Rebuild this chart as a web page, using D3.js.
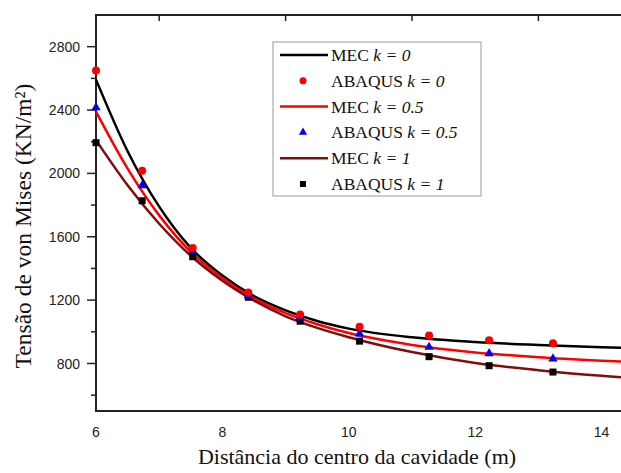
<!DOCTYPE html>
<html lang="en">
<head>
    <meta charset="utf-8">
    <title>Tensão de von Mises</title>
    <script src="https://d3js.org/d3.v7.min.js"></script>
    <style>
        body { margin: 0; background: #fff; }
        .tick-label { font-family: "Liberation Sans", Arial, sans-serif; font-size: 14px; fill: #222; }
        .title { font-family: "Liberation Serif", "Times New Roman", serif; font-size: 22px; fill: #111; }
        .legend-text { font-family: "Liberation Serif", "Times New Roman", serif; font-size: 17.5px; fill: #111; }
    </style>
</head>
<body>
<svg id="chart"></svg>
<script>
    // ABAQUS points (x in m, von Mises stress in KN/m2)
    const abaqusX = [6.0, 6.73, 7.53, 8.41, 9.23, 10.17, 11.27, 12.22, 13.23];
    const abaqusK0 = [2650, 2016, 1529, 1248, 1109, 1032, 977, 947, 928];
    const abaqusK05 = [2415, 1924, 1508, 1229, 1090, 988, 903, 863, 830];
    const abaqusK1 = [2194, 1827, 1474, 1218, 1067, 941, 843, 786, 746];

    // MEC curves
    const mecX = [6.0, 6.5, 7.0, 7.5, 8.0, 8.5, 9.0, 9.5, 10.0, 11.0, 12.0, 13.0, 14.0, 15.0];
    const mecK0 = [2592, 2140, 1790, 1530, 1355, 1225, 1135, 1068, 1020, 965, 935, 917, 903, 893];
    const mecK05 = [2390, 2030, 1735, 1505, 1340, 1212, 1118, 1048, 992, 917, 870, 840, 818, 800];
    const mecK1 = [2210, 1925, 1682, 1480, 1322, 1197, 1098, 1025, 966, 872, 803, 758, 722, 697];

    const xTicks = [6, 8, 10, 12, 14];
    const xTopTicks = [7, 9, 11, 13];
    const yTicks = [800, 1200, 1600, 2000, 2400, 2800];
    const yMinorTicks = [600, 1000, 1400, 1800, 2200, 2600];

    const width = 621, height = 473;
    const margin = {top: 15, left: 96, bottom: 411};

    let svg = d3.select("#chart")
            .attr("width", width)
            .attr("height", height);

    let x = d3.scaleLinear().domain([6, 15]).range([margin.left, margin.left + 9 * 63.2]);
    let y = d3.scaleLinear().domain([500, 3000]).range([margin.bottom, margin.top]);

    // frame lines
    svg.append("line").attr("x1", x(6)).attr("x2", width).attr("y1", y(500)).attr("y2", y(500))
            .attr("stroke", "#222").attr("stroke-width", 2);
    svg.append("line").attr("x1", x(6)).attr("x2", width).attr("y1", y(3000)).attr("y2", y(3000))
            .attr("stroke", "#222").attr("stroke-width", 2);
    svg.append("line").attr("x1", x(6)).attr("x2", x(6)).attr("y1", y(500) + 1).attr("y2", y(3000) - 1)
            .attr("stroke", "#222").attr("stroke-width", 2);

    // top ticks pointing in
    svg.selectAll(".top-tick").data(xTopTicks).enter().append("line")
            .attr("x1", d => x(d)).attr("x2", d => x(d))
            .attr("y1", y(3000)).attr("y2", y(3000) + 6)
            .attr("stroke", "#222").attr("stroke-width", 1.5);

    // left ticks
    svg.selectAll(".ymaj").data(yTicks).enter().append("line")
            .attr("x1", x(6) - 9).attr("x2", x(6))
            .attr("y1", d => y(d)).attr("y2", d => y(d))
            .attr("stroke", "#222").attr("stroke-width", 1.5);
    svg.selectAll(".ymin").data(yMinorTicks).enter().append("line")
            .attr("x1", x(6) - 5).attr("x2", x(6))
            .attr("y1", d => y(d)).attr("y2", d => y(d))
            .attr("stroke", "#222").attr("stroke-width", 1.5);

    svg.selectAll(".ylab").data(yTicks).enter().append("text")
            .attr("class", "tick-label")
            .attr("x", x(6) - 16).attr("y", d => y(d))
            .attr("dy", "0.36em")
            .attr("text-anchor", "end")
            .text(d => d);

    svg.selectAll(".xlab").data(xTicks).enter().append("text")
            .attr("class", "tick-label")
            .attr("x", d => x(d)).attr("y", 437)
            .attr("text-anchor", "middle")
            .text(d => d);

    // axis titles
    svg.append("text").attr("class", "title")
            .attr("x", 357).attr("y", 464)
            .attr("text-anchor", "middle")
            .text("Distância do centro da cavidade (m)");

    svg.append("text").attr("class", "title")
            .attr("transform", `translate(${31}, ${226}) rotate(-90)`)
            .attr("text-anchor", "middle")
            .style("font-size", "23.5px")
            .text("Tensão de von Mises (KN/m²)");

    // curves
    let plot = svg.append("g");
    let line = d3.line().curve(d3.curveMonotoneX);
    const series = [
        {vals: mecK0, color: "#000000"},
        {vals: mecK05, color: "#ff0000"},
        {vals: mecK1, color: "#7f0d0d"}
    ];
    series.forEach(s => {
        plot.append("path")
                .attr("d", line(mecX.map((d, i) => [x(d), y(s.vals[i])])))
                .attr("fill", "none")
                .attr("stroke", s.color)
                .attr("stroke-width", 2.5);
    });

    // ABAQUS markers
    plot.selectAll(".sq").data(abaqusX).enter().append("rect")
            .attr("x", d => x(d) - 3.5).attr("y", (d, i) => y(abaqusK1[i]) - 3.5)
            .attr("width", 7).attr("height", 7)
            .attr("fill", "#000");
    let tri = d3.symbol().type(d3.symbolTriangle).size(38);
    plot.selectAll(".tri").data(abaqusX).enter().append("path")
            .attr("d", tri)
            .attr("transform", (d, i) => `translate(${x(d)}, ${y(abaqusK05[i])})`)
            .attr("fill", "#0000ff");
    plot.selectAll(".dot").data(abaqusX).enter().append("circle")
            .attr("cx", d => x(d)).attr("cy", (d, i) => y(abaqusK0[i]))
            .attr("r", 4)
            .attr("fill", "#ff0000");

    // legend
    let legend = svg.append("g").attr("transform", "translate(273, 42)");
    legend.append("rect")
            .attr("width", 208).attr("height", 154)
            .attr("fill", "#fff").attr("stroke", "#999").attr("stroke-width", 1);

    const legendItems = [
        {type: "line", color: "#000000", label: "MEC ", k: "k = 0"},
        {type: "circle", color: "#ff0000", label: "ABAQUS ", k: "k = 0"},
        {type: "line", color: "#ff0000", label: "MEC ", k: "k = 0.5"},
        {type: "tri", color: "#0000ff", label: "ABAQUS ", k: "k = 0.5"},
        {type: "line", color: "#7f0d0d", label: "MEC ", k: "k = 1"},
        {type: "rect", color: "#000000", label: "ABAQUS ", k: "k = 1"}
    ];

    legendItems.forEach((d, i) => {
        let g = legend.append("g").attr("transform", `translate(0, ${13 + i * 25.8})`);
        if (d.type === "line") {
            g.append("line").attr("x1", 7).attr("x2", 55).attr("y1", 0).attr("y2", 0)
                    .attr("stroke", d.color).attr("stroke-width", 2.5);
        } else if (d.type === "circle") {
            g.append("circle").attr("cx", 30).attr("cy", 0).attr("r", 3.5).attr("fill", d.color);
        } else if (d.type === "tri") {
            g.append("path").attr("d", d3.symbol().type(d3.symbolTriangle).size(30))
                    .attr("transform", "translate(30, 0)").attr("fill", d.color);
        } else {
            g.append("rect").attr("x", 27).attr("y", -3).attr("width", 6).attr("height", 6).attr("fill", d.color);
        }
        let t = g.append("text").attr("class", "legend-text")
                .attr("x", 58).attr("y", 6);
        t.append("tspan").text(d.label);
        t.append("tspan").attr("font-style", "italic").text(d.k);
    });
</script>
</body>
</html>
